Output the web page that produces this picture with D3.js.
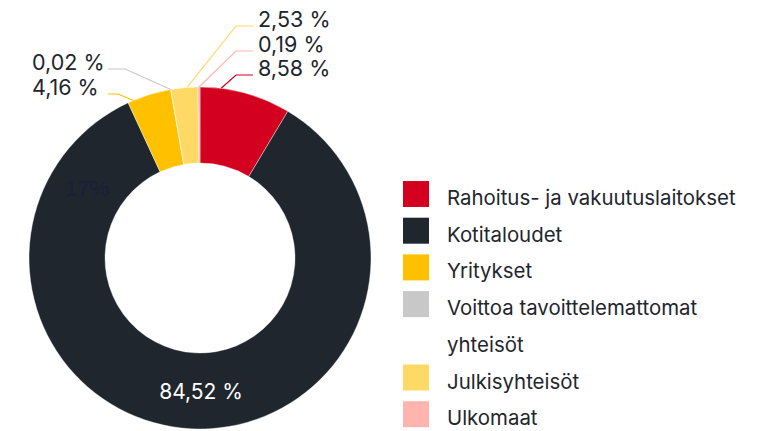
<!DOCTYPE html>
<html>
<head>
<meta charset="utf-8">
<script src="https://cdn.jsdelivr.net/npm/d3@7"></script>
<style>
  body { margin: 0; background: #fff; }
  svg { display: block; }
</style>
</head>
<body>
<svg id="chart"></svg>
<script>
// data
const categories = ["Rahoitus- ja vakuutuslaitokset", "Kotitaloudet", "Yritykset",
    "Voittoa tavoittelemattomat yhteisöt", "Julkisyhteisöt", "Ulkomaat"];
const legendLines = [["Rahoitus- ja vakuutuslaitokset"], ["Kotitaloudet"], ["Yritykset"],
    ["Voittoa tavoittelemattomat", "yhteisöt"], ["Julkisyhteisöt"], ["Ulkomaat"]];
const shares = [8.58, 84.52, 4.16, 0.02, 2.53, 0.19];
const colors = ["#d3001f", "#1f262e", "#ffc000", "#c8c8c8", "#ffd966", "#ffb5ad"];

const width = 772, height = 431;
const cx = 200, cy = 258, outerR = 171, innerR = 95;
const textColor = "#1f262e";
const font = "Inter, 'Liberation Sans', Arial, sans-serif";

const fi = d3.formatLocale({ decimal: ",", thousands: " ", grouping: [3], currency: ["", "€"] });
const pct = v => fi.format(".2f")(v) + " %";

// callout layout (label baseline y, side, anchor position within slice, horizontal leg)
const callouts = {
    0: { y: 76, side: "right", frac: 0.23, leg: 17 },
    2: { y: 95, side: "left", frac: 0.13, leg: 10 },
    3: { y: 70, side: "left", frac: 0.5, leg: 17 },
    4: { y: 27, side: "right", frac: 0.6, leg: 17 },
    5: { y: 52, side: "right", frac: 0.5, leg: 17 }
};

const svg = d3.select("#chart").attr("width", width).attr("height", height);

const pie = d3.pie().sort(null).value(d => d);
const arcs = pie(shares);
const arc = d3.arc().innerRadius(innerR).outerRadius(outerR);

const g = svg.append("g").attr("transform", `translate(${cx},${cy})`);

g.selectAll("path.slice")
    .data(arcs)
    .join("path")
    .attr("class", "slice")
    .attr("fill", (d, i) => colors[i])
    .attr("stroke", "#fff")
    .attr("stroke-width", 0.4)
    .attr("d", arc);

// inside label for the big slice
const big = arcs[1];
const c = arc.centroid(big);
g.append("text")
    .attr("x", c[0] + 8)
    .attr("y", c[1] + 8)
    .attr("text-anchor", "middle")
    .attr("fill", "#fff")
    .attr("font-family", font)
    .attr("font-size", 21)
    .text(pct(shares[1]));

// stray label seen in the picture
g.append("text")
    .attr("x", 65 - cx)
    .attr("y", 196 - cy)
    .attr("fill", "#18213a")
    .attr("font-family", "'Liberation Sans', Arial, sans-serif")
    .attr("font-size", 22)
    .text("17%");

// callouts
Object.entries(callouts).forEach(([k, o]) => {
    const i = +k;
    const a = arcs[i];
    const ang = a.startAngle + (a.endAngle - a.startAngle) * o.frac;
    const px = Math.sin(ang) * outerR, py = -Math.cos(ang) * outerR;
    const ly = o.y - 1 - cy;
    let pts, tx;
    if (o.side === "right") {
        const ex = 236 - cx;
        pts = [[px, py], [ex, ly], [ex + o.leg, ly]];
        tx = ex + o.leg + 5;
    } else {
        const sx = 108 - cx;
        pts = [[px, py], [sx + o.leg, ly], [sx, ly]];
        tx = 32 - cx;
    }
    g.append("path")
        .attr("d", d3.line()(pts))
        .attr("fill", "none")
        .attr("stroke", colors[i])
        .attr("stroke-width", 1.2);
    g.append("text")
        .attr("x", tx)
        .attr("y", o.y - cy)
        .attr("fill", textColor)
        .attr("font-family", font)
        .attr("font-size", 21.5)
        .text(pct(shares[i]));
});

// legend
const lineH = 36.7;
let row = 0;
const legend = svg.append("g").attr("font-family", font).attr("font-size", 20.4).attr("fill", textColor);
categories.forEach((name, i) => {
    const base = 205 + row * lineH;
    legend.append("rect")
        .attr("x", 403).attr("y", base - 24)
        .attr("width", 26).attr("height", 26)
        .attr("fill", colors[i]);
    legendLines[i].forEach((t, j) => {
        legend.append("text")
            .attr("x", 447)
            .attr("y", base + j * lineH)
            .text(t);
    });
    row += legendLines[i].length;
});
</script>
</body>
</html>
